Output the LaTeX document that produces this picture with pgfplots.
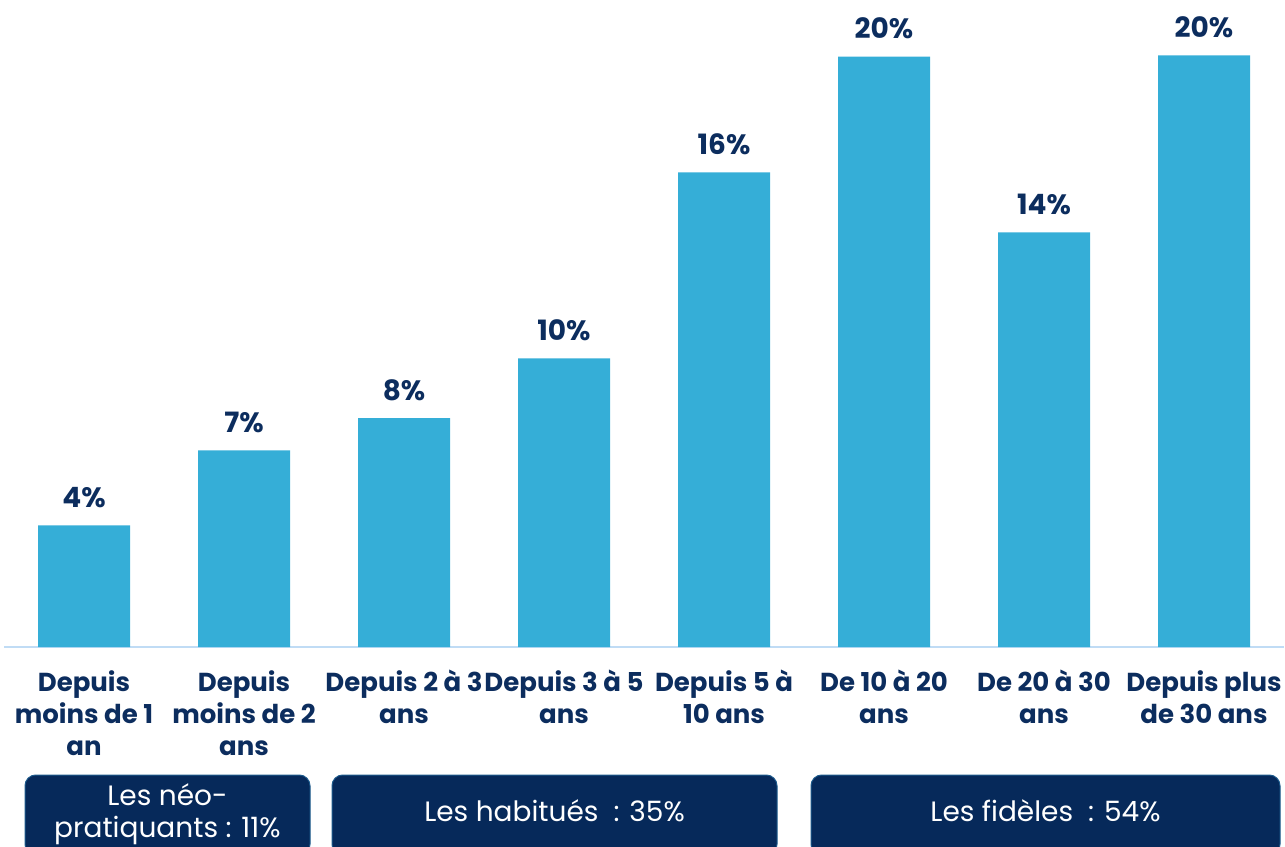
\documentclass[border=0pt]{standalone}
\usepackage{pgfplots}
\pgfplotsset{compat=1.18}
\usepackage{fontspec}
\setmainfont{Poppins}
\definecolor{barblue}{HTML}{35AED7}
\definecolor{navy}{HTML}{0C2D5E}
\definecolor{boxnavy}{HTML}{06295A}
\definecolor{boxedge}{HTML}{1C5A8C}
\definecolor{lineblue}{HTML}{C0DCF5}
\begin{document}
\begin{tikzpicture}
\path[use as bounding box] (-3pt,-149.25pt) rectangle (960.75pt,485.25pt);
\begin{axis}[
  at={(0,0)}, anchor=south west,
  scale only axis, width=960pt, height=485.25pt,
  xmin=-0.5, xmax=7.5, ymin=0, ymax=21.92,
  axis x line=bottom, axis y line=none,
  x axis line style={-, draw=lineblue, line width=2pt},
  xtick=data, xtick style={draw=none},
  xticklabels={{Depuis\\moins de 1\\an},{Depuis\\moins de 2\\ans},{Depuis 2 à 3\\ans},{Depuis 3 à 5\\ans},{Depuis 5 à\\10 ans},{De 10 à 20\\ans},{De 20 à 30\\ans},{Depuis plus\\de 30 ans}},
  xticklabel style={anchor=north, align=center, inner sep=0pt, yshift=-13pt, font=\fontsize{19.5}{24}\selectfont\bfseries, text=navy},
  ytick=\empty,
  ybar, bar width=69pt,
  nodes near coords={\pgfmathprintnumber[fixed,precision=0]{\pgfplotspointmeta}\%},
  every node near coord/.append style={font=\fontsize{21}{24}\selectfont\bfseries, text=navy, anchor=base, inner sep=0pt, yshift=13.5pt},
  /pgf/number format/assume math mode=true,
  clip=false,
]
\addplot[fill=barblue, draw=none] coordinates {(0,4.12) (1,6.66) (2,7.75) (3,9.78) (4,16.08) (5,20.0) (6,14.05) (7,20.04)};
\end{axis}
\draw[boxedge, fill=boxnavy, line width=0.75pt, rounded corners=8pt] (15.75pt,-96pt) rectangle (229.5pt,-156pt);
\draw[boxedge, fill=boxnavy, line width=0.75pt, rounded corners=8pt] (246pt,-96pt) rectangle (579.75pt,-156pt);
\draw[boxedge, fill=boxnavy, line width=0.75pt, rounded corners=8pt] (605.25pt,-96pt) rectangle (957pt,-156pt);
\tikzset{boxtext/.style={text=white, font=\fontsize{21}{24}\selectfont, anchor=base, inner sep=0pt}}
\node[boxtext] at (122.6pt,-118.5pt) {Les néo-};
\node[boxtext] at (122.6pt,-142.5pt) {pratiquants : 11\%};
\node[boxtext] at (412.9pt,-131pt) {Les habitués\ \ : 35\%};
\node[boxtext] at (781.1pt,-131pt) {Les fidèles\ \ : 54\%};
\end{tikzpicture}
\end{document}
